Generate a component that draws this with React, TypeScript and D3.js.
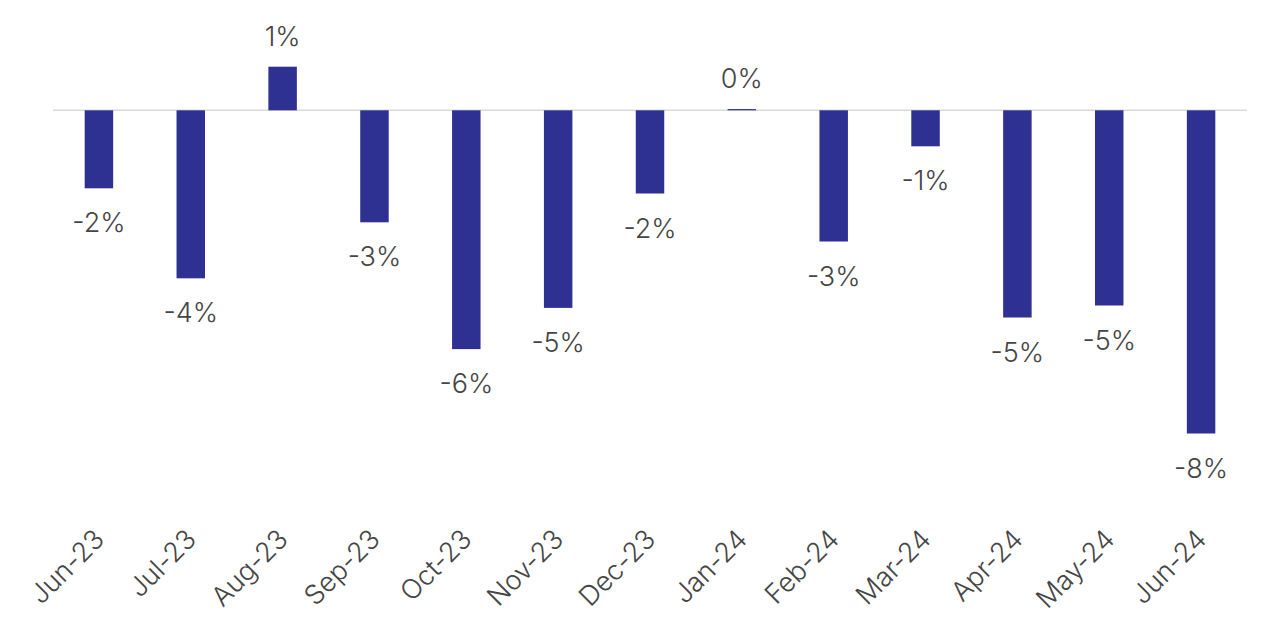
import React, { useEffect, useRef } from "react";
import * as d3 from "d3";

const categories = ["Jun-23","Jul-23","Aug-23","Sep-23","Oct-23","Nov-23","Dec-23","Jan-24","Feb-24","Mar-24","Apr-24","May-24","Jun-24"];
const values = [-1.95, -4.2, 1.09, -2.8, -5.97, -4.94, -2.08, 0.03, -3.28, -0.9, -5.18, -4.88, -8.08];
const labels = ["-2%","-4%","1%","-3%","-6%","-5%","-2%","0%","-3%","-1%","-5%","-5%","-8%"];

const W = 1280, H = 643;
const FONT = "Inter, 'Open Sans', sans-serif";
const BAR = "#2E3192";
const TEXT = "#454545";

export default function App() {
  const ref = useRef<SVGSVGElement>(null);
  useEffect(() => {
    document.body.style.margin = "0";
    const svg = d3.select(ref.current!);
    svg.selectAll("*").remove();
    const x = d3.scaleBand<string>().domain(categories).range([53, 1247]).paddingInner(0.69).paddingOuter(0.345);
    const y = d3.scaleLinear().domain([2.75, -9.25]).range([0.3, 480.3]);

    svg.append("line")
      .attr("x1", 53).attr("x2", 1247)
      .attr("y1", y(0)).attr("y2", y(0))
      .attr("stroke", "#d9d9d9").attr("stroke-width", 1.5);

    svg.append("g").selectAll("rect").data(values).join("rect")
      .attr("x", (_, i) => x(categories[i])!)
      .attr("width", x.bandwidth())
      .attr("y", d => Math.min(y(d), y(0)))
      .attr("height", d => Math.max(1, Math.abs(y(d) - y(0))))
      .attr("fill", BAR);

    svg.append("g").selectAll("text").data(values).join("text")
      .attr("x", (_, i) => x(categories[i])! + x.bandwidth() / 2)
      .attr("y", d => d >= 0 ? y(d) - 21 : y(d) + 44)
      .attr("text-anchor", "middle")
      .attr("font-family", FONT)
      .attr("font-weight", 300)
      .attr("font-size", 27)
      .attr("fill", TEXT)
      .text((_, i) => labels[i]);

    svg.append("g").selectAll("text").data(categories).join("text")
      .attr("transform", c => `translate(${x(c)! + x.bandwidth() / 2 + 7},${541}) rotate(-45)`)
      .attr("text-anchor", "end")
      .attr("font-family", FONT)
      .attr("font-weight", 300)
      .attr("font-size", 27)
      .attr("fill", TEXT)
      .text(c => c);
  }, []);
  return <svg ref={ref} width={W} height={H} style={{ display: "block", background: "#fff" }} />;
}
